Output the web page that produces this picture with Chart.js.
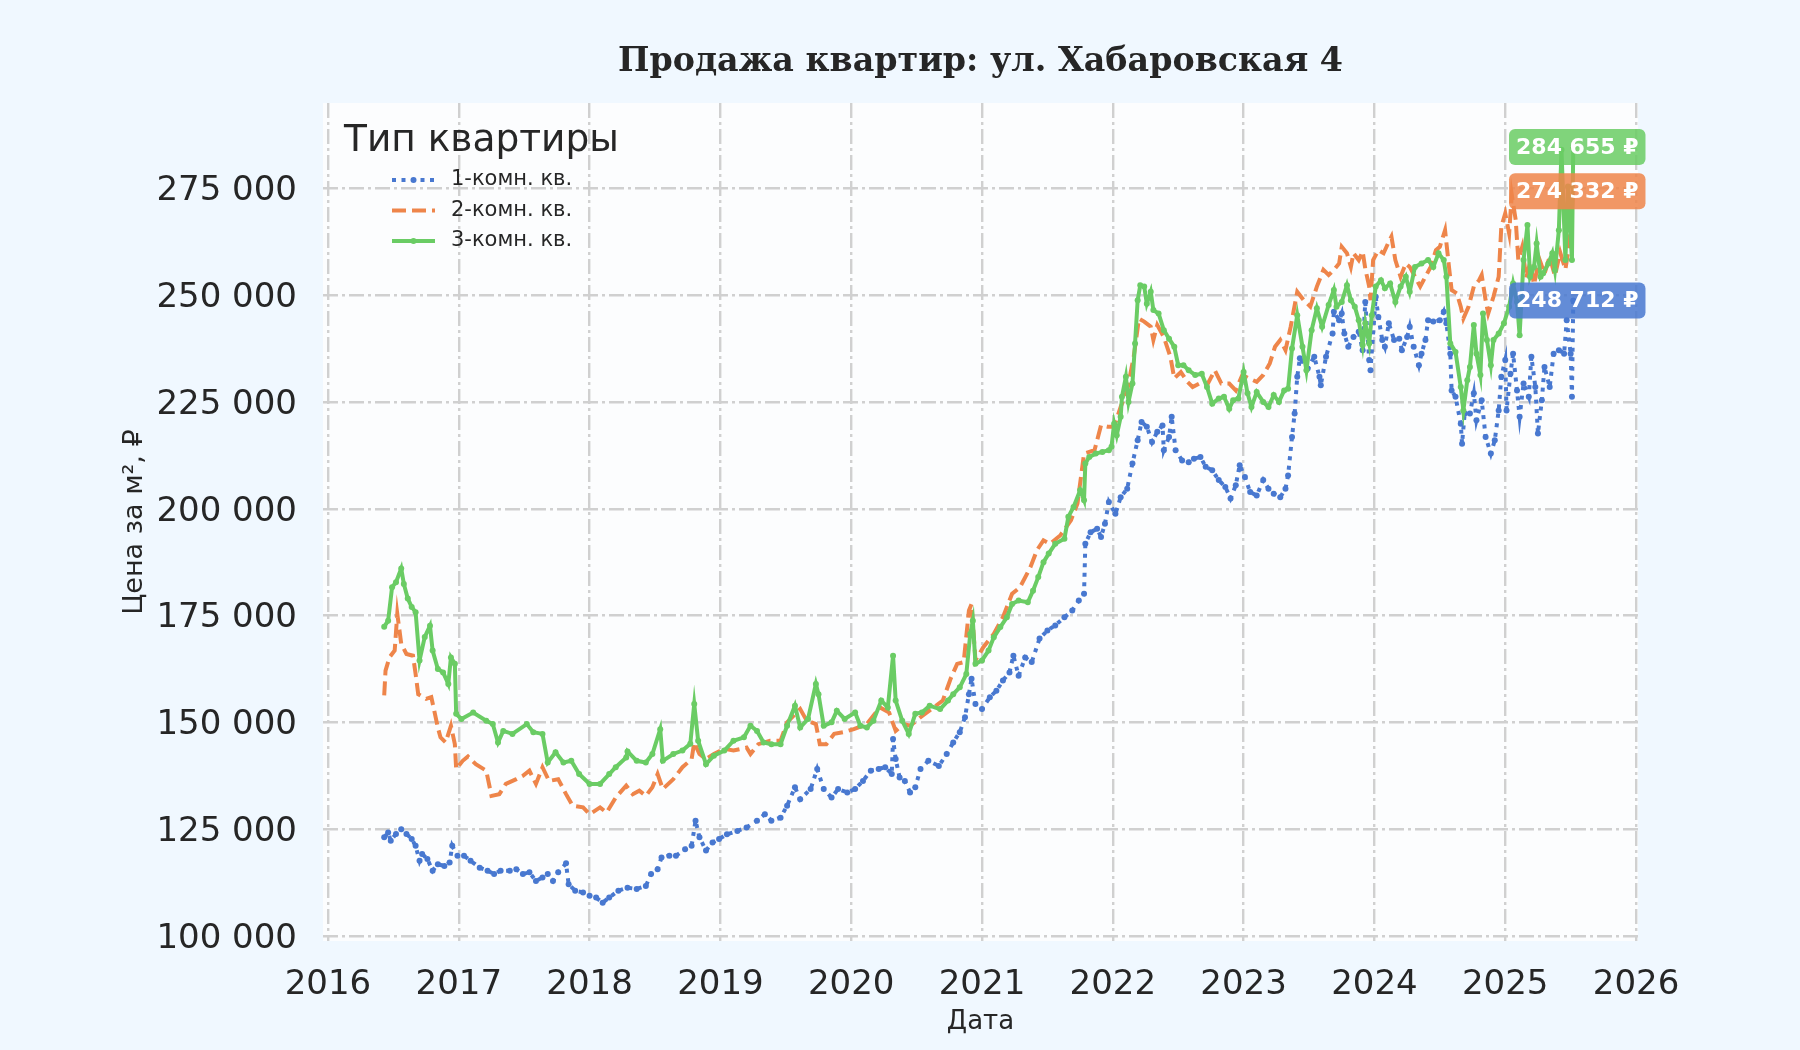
<!DOCTYPE html>
<html lang="ru">
<head>
<meta charset="utf-8">
<title>Продажа квартир: ул. Хабаровская 4</title>
<script src="https://cdn.jsdelivr.net/npm/chart.js@4.4.1/dist/chart.umd.min.js"></script>
<style>
  html, body { margin: 0; padding: 0; background: #f0f8ff; }
  #wrap { width: 1800px; height: 1050px; }
</style>
</head>
<body>
<div id="wrap"><canvas id="chart" width="1800" height="1050"></canvas></div>
<script>
'use strict';

// --- Данные, даты — дробные годы ---
const oneRoomDates = [
  2016.43, 2016.46, 2016.48, 2016.52, 2016.56, 2016.60, 2016.64, 2016.67, 2016.70, 2016.72,
  2016.76, 2016.80, 2016.84, 2016.89, 2016.93, 2016.95, 2016.99, 2017.04, 2017.09, 2017.16,
  2017.22, 2017.27, 2017.32, 2017.39, 2017.44, 2017.49, 2017.54, 2017.59, 2017.64, 2017.68,
  2017.72, 2017.76, 2017.82, 2017.84, 2017.89, 2017.95, 2018.00, 2018.05, 2018.10, 2018.15,
  2018.22, 2018.29, 2018.36, 2018.43, 2018.47, 2018.52, 2018.55, 2018.61, 2018.66, 2018.73,
  2018.78, 2018.81, 2018.84, 2018.89, 2018.94, 2018.99, 2019.05, 2019.13, 2019.20, 2019.28,
  2019.34, 2019.39, 2019.46, 2019.51, 2019.57, 2019.61, 2019.69, 2019.74, 2019.79, 2019.85,
  2019.90, 2019.97, 2020.03, 2020.09, 2020.15, 2020.21, 2020.26, 2020.31, 2020.32, 2020.34,
  2020.37, 2020.41, 2020.45, 2020.49, 2020.53, 2020.59, 2020.67, 2020.73, 2020.78, 2020.83,
  2020.87, 2020.90, 2020.92, 2020.95, 2021.00, 2021.06, 2021.11, 2021.16, 2021.21, 2021.24,
  2021.28, 2021.33, 2021.38, 2021.44, 2021.50, 2021.56, 2021.63, 2021.69, 2021.74, 2021.78,
  2021.79, 2021.83, 2021.88, 2021.91, 2021.94, 2021.97, 2022.02, 2022.06, 2022.11, 2022.15,
  2022.19, 2022.22, 2022.26, 2022.30, 2022.34, 2022.38, 2022.39, 2022.43, 2022.45, 2022.48,
  2022.53, 2022.58, 2022.62, 2022.67, 2022.71, 2022.76, 2022.81, 2022.86, 2022.90, 2022.94,
  2022.97, 2023.01, 2023.05, 2023.10, 2023.15, 2023.19, 2023.23, 2023.28, 2023.32, 2023.34,
  2023.37, 2023.39, 2023.41, 2023.43, 2023.49, 2023.54, 2023.58, 2023.59, 2023.63, 2023.68,
  2023.69, 2023.73, 2023.75, 2023.77, 2023.80, 2023.84, 2023.88, 2023.91, 2023.93, 2023.96,
  2023.97, 2024.01, 2024.03, 2024.06, 2024.08, 2024.11, 2024.15, 2024.19, 2024.21, 2024.25,
  2024.27, 2024.30, 2024.34, 2024.36, 2024.39, 2024.41, 2024.45, 2024.50, 2024.53, 2024.55,
  2024.58, 2024.59, 2024.62, 2024.66, 2024.67, 2024.69, 2024.73, 2024.76, 2024.78, 2024.82,
  2024.85, 2024.89, 2024.92, 2024.95, 2024.97, 2025.00, 2025.01, 2025.04, 2025.06, 2025.09,
  2025.11, 2025.14, 2025.18, 2025.20, 2025.23, 2025.25, 2025.28, 2025.30, 2025.34, 2025.37,
  2025.41, 2025.45, 2025.47, 2025.50, 2025.51, 2025.52
];
const oneRoomPrices = [
  123100, 124200, 122300, 123900, 125000, 123900, 122700, 121100, 117600, 119200,
  118000, 115300, 116800, 116400, 117200, 121100, 118800, 118800, 117600, 116000,
  115300, 114500, 115300, 115300, 115600, 114500, 114900, 112900, 113700, 114500,
  112900, 114900, 117000, 112100, 110600, 110200, 109400, 109000, 107800, 109000,
  110600, 111300, 111000, 111700, 114500, 115600, 118400, 118800, 118800, 120300,
  121100, 127000, 123100, 120000, 121900, 122700, 123800, 124600, 125400, 127000,
  128500, 127000, 127700, 130500, 134800, 132000, 134400, 139100, 134400, 132400,
  134400, 133600, 134400, 136300, 138700, 139100, 139500, 137900, 146100, 141400,
  137100, 136300, 133600, 134800, 139100, 141000, 139800, 142600, 145300, 147700,
  151200, 156600, 160200, 154300, 153100, 155900, 157400, 159800, 161700, 165600,
  160900, 165200, 164100, 169600, 171500, 172700, 174600, 176200, 178500, 180100,
  191800, 194500, 195300, 193400, 196500, 201600, 198800, 202700, 204700, 210600,
  216000, 220300, 219200, 215600, 218000, 219500, 213700, 216800, 221500, 213700,
  211300, 210900, 211700, 212100, 209800, 209000, 206700, 205100, 202400, 205500,
  210200, 207400, 203900, 203100, 206700, 204700, 203500, 202700, 204700, 207800,
  216800, 222300, 230900, 235200, 232800, 235600, 230900, 228900, 235600, 241000,
  246100, 244100, 245700, 241000, 237900, 240200, 241400, 237100, 248400, 234800,
  232400, 249600, 244900, 239500, 237900, 243400, 239500, 239800, 237100, 240200,
  242600, 237900, 233600, 236300, 239500, 244100, 243800, 244100, 246100, 243400,
  236300, 227700, 226200, 219900, 215200, 222300, 222300, 227000, 220700, 225400,
  216800, 212900, 216000, 223000, 230900, 234800, 223000, 231600, 236300, 227700,
  221500, 229300, 226200, 235600, 228500, 217600, 225400, 233200, 228500, 236300,
  237100, 236300, 244100, 236300, 226200, 248712
];

const twoRoomDates = [
  2016.43, 2016.44, 2016.47, 2016.51, 2016.53, 2016.56, 2016.60, 2016.65, 2016.67, 2016.69,
  2016.75, 2016.79, 2016.81, 2016.84, 2016.86, 2016.90, 2016.94, 2016.97, 2016.98, 2017.03,
  2017.07, 2017.13, 2017.21, 2017.25, 2017.31, 2017.36, 2017.44, 2017.49, 2017.54, 2017.59,
  2017.64, 2017.69, 2017.76, 2017.82, 2017.87, 2017.95, 2018.00, 2018.08, 2018.13, 2018.20,
  2018.28, 2018.33, 2018.38, 2018.43, 2018.48, 2018.52, 2018.56, 2018.64, 2018.71, 2018.78,
  2018.80, 2018.84, 2018.89, 2018.95, 2019.03, 2019.10, 2019.20, 2019.23, 2019.29, 2019.38,
  2019.46, 2019.51, 2019.61, 2019.66, 2019.73, 2019.76, 2019.81, 2019.87, 2019.94, 2020.02,
  2020.12, 2020.22, 2020.29, 2020.34, 2020.40, 2020.45, 2020.53, 2020.63, 2020.70, 2020.76,
  2020.81, 2020.86, 2020.90, 2020.92, 2020.95, 2021.01, 2021.09, 2021.16, 2021.23, 2021.29,
  2021.37, 2021.42, 2021.47, 2021.52, 2021.60, 2021.68, 2021.73, 2021.78, 2021.86, 2021.91,
  2021.96, 2022.01, 2022.06, 2022.11, 2022.16, 2022.20, 2022.24, 2022.29, 2022.31, 2022.34,
  2022.39, 2022.44, 2022.47, 2022.52, 2022.57, 2022.61, 2022.66, 2022.72, 2022.78, 2022.83,
  2022.89, 2022.94, 2022.99, 2023.04, 2023.10, 2023.15, 2023.20, 2023.24, 2023.28, 2023.32,
  2023.36, 2023.41, 2023.46, 2023.51, 2023.56, 2023.61, 2023.65, 2023.69, 2023.73, 2023.75,
  2023.79, 2023.82, 2023.84, 2023.88, 2023.91, 2023.93, 2023.96, 2023.97, 2023.99, 2024.03,
  2024.07, 2024.11, 2024.13, 2024.16, 2024.20, 2024.24, 2024.27, 2024.31, 2024.35, 2024.39,
  2024.43, 2024.47, 2024.50, 2024.54, 2024.57, 2024.59, 2024.63, 2024.66, 2024.68, 2024.72,
  2024.76, 2024.80, 2024.82, 2024.85, 2024.87, 2024.91, 2024.95, 2024.97, 2025.00, 2025.03,
  2025.05, 2025.08, 2025.10, 2025.13, 2025.16, 2025.19, 2025.22, 2025.26, 2025.30, 2025.34,
  2025.38, 2025.42, 2025.46, 2025.49, 2025.52
];
const twoRoomPrices = [
  156300, 162100, 165200, 166800, 175400, 168400, 166000, 165600, 161300, 156600,
  155500, 155900, 153100, 148800, 146500, 145300, 149200, 144900, 139100, 141000,
  142000, 140200, 138700, 132800, 133200, 135600, 136700, 137500, 138700, 135600,
  139500, 136300, 136700, 133200, 130500, 130100, 128500, 130100, 128900, 132400,
  135200, 133200, 134000, 132800, 134800, 137900, 134400, 136700, 139500, 141400,
  145300, 142600, 141400, 142600, 143800, 143400, 144100, 142600, 144900, 145700,
  145700, 150000, 153100, 150400, 149600, 144900, 144900, 147300, 147700, 148400,
  149600, 153500, 152300, 148000, 149600, 149200, 151200, 153500, 155100, 160200,
  163700, 164100, 176200, 177700, 164500, 167600, 170700, 174600, 180100, 181600,
  186300, 190300, 192600, 191800, 193800, 197300, 201200, 212900, 213700, 219500,
  219200, 219200, 223800, 227700, 235600, 244500, 243800, 242600, 239500, 243000,
  240200, 235600, 230500, 232000, 229700, 228500, 229300, 228900, 232400, 229300,
  229300, 227700, 231300, 230500, 229700, 231300, 234000, 237900, 239500, 237100,
  242600, 250800, 248800, 247300, 252000, 255900, 254700, 255900, 257400, 261300,
  259800, 256600, 259800, 258200, 260200, 256200, 252000, 248800, 258200, 260500,
  259800, 262500, 263700, 258200, 254300, 257400, 256600, 254300, 252000, 254300,
  256600, 260500, 261300, 265200, 256600, 251200, 250400, 247300, 244500, 247300,
  252000, 253500, 254700, 248800, 245700, 249600, 254300, 266000, 269100, 264400,
  273500, 267600, 258200, 261300, 254000, 257500, 252500, 258500, 255000, 259000,
  254500, 260000, 256000, 262000, 274332
];

const threeRoomDates = [
  2016.43, 2016.46, 2016.49, 2016.52, 2016.56, 2016.58, 2016.61, 2016.64, 2016.67, 2016.70,
  2016.74, 2016.78, 2016.80, 2016.84, 2016.88, 2016.92, 2016.94, 2016.97, 2016.98, 2017.02,
  2017.11, 2017.21, 2017.26, 2017.30, 2017.34, 2017.41, 2017.52, 2017.57, 2017.64, 2017.68,
  2017.74, 2017.80, 2017.86, 2017.92, 2018.00, 2018.08, 2018.15, 2018.20, 2018.28, 2018.29,
  2018.36, 2018.43, 2018.48, 2018.54, 2018.56, 2018.64, 2018.71, 2018.77, 2018.80, 2018.83,
  2018.89, 2018.95, 2019.03, 2019.10, 2019.18, 2019.23, 2019.28, 2019.33, 2019.39, 2019.46,
  2019.51, 2019.57, 2019.61, 2019.67, 2019.73, 2019.75, 2019.79, 2019.85, 2019.89, 2019.95,
  2020.03, 2020.07, 2020.12, 2020.17, 2020.23, 2020.28, 2020.32, 2020.34, 2020.39, 2020.44,
  2020.49, 2020.54, 2020.60, 2020.68, 2020.74, 2020.78, 2020.83, 2020.88, 2020.91, 2020.93,
  2020.95, 2021.00, 2021.05, 2021.09, 2021.14, 2021.19, 2021.23, 2021.28, 2021.35, 2021.39,
  2021.43, 2021.47, 2021.51, 2021.56, 2021.63, 2021.66, 2021.70, 2021.75, 2021.78, 2021.79,
  2021.82, 2021.87, 2021.92, 2021.97, 2021.99, 2022.01, 2022.03, 2022.06, 2022.07, 2022.10,
  2022.12, 2022.15, 2022.17, 2022.19, 2022.21, 2022.24, 2022.26, 2022.29, 2022.31, 2022.35,
  2022.39, 2022.43, 2022.47, 2022.50, 2022.54, 2022.58, 2022.63, 2022.68, 2022.72, 2022.76,
  2022.81, 2022.85, 2022.89, 2022.92, 2022.96, 2023.00, 2023.03, 2023.06, 2023.10, 2023.15,
  2023.19, 2023.23, 2023.27, 2023.31, 2023.34, 2023.37, 2023.41, 2023.45, 2023.48, 2023.52,
  2023.56, 2023.60, 2023.65, 2023.69, 2023.71, 2023.75, 2023.79, 2023.82, 2023.85, 2023.88,
  2023.91, 2023.93, 2023.96, 2023.98, 2024.01, 2024.05, 2024.08, 2024.12, 2024.16, 2024.20,
  2024.24, 2024.27, 2024.31, 2024.36, 2024.41, 2024.45, 2024.49, 2024.53, 2024.55, 2024.58,
  2024.62, 2024.66, 2024.68, 2024.71, 2024.73, 2024.76, 2024.78, 2024.81, 2024.83, 2024.86,
  2024.89, 2024.91, 2024.95, 2024.99, 2025.03, 2025.06, 2025.09, 2025.11, 2025.14, 2025.17,
  2025.19, 2025.22, 2025.24, 2025.27, 2025.29, 2025.33, 2025.36, 2025.38, 2025.41, 2025.43,
  2025.46, 2025.48, 2025.51, 2025.52
];
const threeRoomPrices = [
  172400, 173800, 181600, 182800, 186000, 182400, 179000, 177000, 175800, 164500,
  170000, 172600, 166800, 162500, 161700, 159000, 165200, 163700, 152000, 150800,
  152300, 150400, 149600, 145300, 148000, 147300, 149600, 147700, 147300, 140600,
  143000, 140600, 141000, 137900, 135600, 135600, 137900, 139500, 141800, 143200,
  141000, 140600, 142600, 148400, 141000, 142600, 143400, 145000, 154300, 145700,
  140200, 142200, 143400, 145700, 146500, 149200, 148000, 145300, 144900, 144900,
  149200, 153900, 148800, 150800, 159000, 156600, 149200, 150000, 152700, 150800,
  152300, 149200, 148800, 150400, 155100, 153500, 165600, 155100, 150400, 147300,
  152000, 152300, 153900, 153100, 155100, 156600, 158200, 161300, 170700, 173800,
  163700, 164500, 166800, 169900, 172300, 174600, 177700, 178500, 178100, 180800,
  184000, 187500, 189500, 191800, 193000, 198100, 200400, 204300, 202000, 210600,
  212100, 212900, 213300, 213700, 214500, 219900, 217200, 221500, 226200, 230900,
  225000, 229300, 238700, 248800, 252300, 252000, 248000, 250800, 246500, 245700,
  241800, 239800, 237900, 233600, 233600, 232400, 231300, 231600, 228500, 224600,
  225800, 226200, 223400, 225400, 225800, 232000, 227000, 223800, 227300, 225000,
  223800, 226600, 225000, 227700, 228100, 237500, 245300, 237900, 232400, 241800,
  246900, 242600, 247700, 251200, 247300, 248400, 252300, 248800, 247300, 244100,
  238300, 243400, 238700, 245300, 252000, 253500, 251600, 252700, 248400, 252000,
  254300, 250800, 256600, 257400, 258200, 256600, 259800, 258200, 254300, 238700,
  236700, 228500, 223000, 230100, 233200, 243000, 236300, 231300, 245700, 239500,
  233600, 239500, 241000, 243400, 247300, 252700, 248400, 240600, 258200, 266400,
  254300, 256600, 262100, 254300, 255100, 257400, 259800, 255900, 265200, 284000,
  258200, 275400, 258200, 284655
];

const seriesNames = ['1-комн. кв.', '2-комн. кв.', '3-комн. кв.'];
const yearTicks = [2016, 2017, 2018, 2019, 2020, 2021, 2022, 2023, 2024, 2025, 2026];
const priceTicks = [100000, 125000, 150000, 175000, 200000, 225000, 250000, 275000];

// --- Оформление ---
const COLORS = {
    blue: '#4878d0',
    orange: '#ee854a',
    green: '#6acc64',
    text: '#262626',
    grid: '#d0d0d0',
    figure: '#f0f8ff',
    axes: '#fcfdfe'
};
const FONT = '"DejaVu Sans", sans-serif';

function formatThousands(v) {
    return Math.round(v).toString().replace(/\B(?=(\d{3})+(?!\d))/g, ' ');
}

function toPoints(dates, prices) {
    return dates.map((d, i) => ({ x: d, y: prices[i] }));
}

function hexToRgba(hex, a) {
    const n = parseInt(hex.slice(1), 16);
    return `rgba(${(n >> 16) & 255}, ${(n >> 8) & 255}, ${n & 255}, ${a})`;
}

// Фон фигуры и области построения
const backgroundPlugin = {
    id: 'axesBackground',
    beforeDraw(chart) {
        const { ctx, chartArea: a } = chart;
        ctx.save();
        ctx.fillStyle = COLORS.figure;
        ctx.fillRect(0, 0, chart.width, chart.height);
        ctx.fillStyle = COLORS.axes;
        ctx.fillRect(a.left, a.top, a.right - a.left, a.bottom - a.top);
        ctx.restore();
    }
};

// Заголовок и подписи осей
const titlesPlugin = {
    id: 'titles',
    afterDraw(chart) {
        const { ctx, chartArea: a } = chart;
        ctx.save();
        ctx.fillStyle = COLORS.text;
        ctx.textAlign = 'center';
        ctx.textBaseline = 'middle';
        ctx.font = 'bold 33.3px "DejaVu Serif", serif';
        ctx.fillText('Продажа квартир: ул. Хабаровская 4', (a.left + a.right) / 2, 62);

        ctx.font = `26px ${FONT}`;
        ctx.fillText('Дата', (a.left + a.right) / 2, 1022);

        ctx.translate(135, (a.top + a.bottom) / 2);
        ctx.rotate(-Math.PI / 2);
        ctx.font = `27px ${FONT}`;
        ctx.fillText('Цена за м², ₽', 0, 0);
        ctx.restore();
    }
};

// Легенда внутри области построения (без рамки)
const legendPlugin = {
    id: 'typeLegend',
    afterDraw(chart) {
        const { ctx, chartArea: a } = chart;
        const x0 = a.left + 21;
        ctx.save();
        ctx.fillStyle = COLORS.text;
        ctx.textAlign = 'left';
        ctx.textBaseline = 'middle';
        ctx.font = `37.5px ${FONT}`;
        ctx.fillText('Тип квартиры', x0, a.top + 38);

        chart.data.datasets.forEach((ds, i) => {
            const y = a.top + 77 + i * 30.5;
            const sx = x0 + 48;
            ctx.beginPath();
            ctx.strokeStyle = ds.borderColor;
            ctx.lineWidth = ds.borderWidth;
            ctx.lineCap = 'butt';
            ctx.setLineDash(ds.borderDash || []);
            ctx.moveTo(sx, y);
            ctx.lineTo(sx + 43, y);
            ctx.stroke();
            ctx.setLineDash([]);
            if (ds.pointRadius > 0) {
                ctx.beginPath();
                ctx.fillStyle = ds.borderColor;
                ctx.arc(sx + 21.5, y, ds.pointRadius, 0, Math.PI * 2);
                ctx.fill();
            }
            ctx.fillStyle = COLORS.text;
            ctx.font = `21px ${FONT}`;
            ctx.fillText(ds.label, sx + 59, y);
        });
        ctx.restore();
    }
};

// Плашки с последним значением каждой серии
const lastValuePlugin = {
    id: 'lastValue',
    afterDatasetsDraw(chart) {
        const { ctx, scales: { x, y } } = chart;
        ctx.save();
        ctx.font = `bold 22px ${FONT}`;
        ctx.textAlign = 'center';
        ctx.textBaseline = 'middle';
        chart.data.datasets.forEach(ds => {
            const last = ds.data[ds.data.length - 1];
            const px = x.getPixelForValue(last.x) + 4;
            const py = y.getPixelForValue(last.y);
            const text = `${formatThousands(last.y)} ₽`;
            const w = ctx.measureText(text).width + 14;
            const h = 36;
            ctx.fillStyle = hexToRgba(ds.borderColor, 0.85);
            ctx.beginPath();
            ctx.roundRect(px - w / 2, py - h / 2, w, h, 6);
            ctx.fill();
            ctx.fillStyle = '#ffffff';
            ctx.fillText(text, px, py + 1);
        });
        ctx.restore();
    }
};

const gridCommon = {
    color: COLORS.grid,
    lineWidth: 2.4,
    drawTicks: false,
    borderDash: [15, 4, 3, 4]
};

const chart = new Chart(document.getElementById('chart'), {
    type: 'line',
    data: {
        datasets: [
            {
                label: seriesNames[0],
                data: toPoints(oneRoomDates, oneRoomPrices),
                borderColor: COLORS.blue,
                backgroundColor: COLORS.blue,
                borderWidth: 4,
                borderDash: [4, 5.5],
                pointRadius: 3,
                pointBorderWidth: 0,
                order: 2
            },
            {
                label: seriesNames[1],
                data: toPoints(twoRoomDates, twoRoomPrices),
                borderColor: COLORS.orange,
                backgroundColor: COLORS.orange,
                borderWidth: 4,
                borderDash: [14, 6],
                pointRadius: 0,
                order: 1
            },
            {
                label: seriesNames[2],
                data: toPoints(threeRoomDates, threeRoomPrices),
                borderColor: COLORS.green,
                backgroundColor: COLORS.green,
                borderWidth: 4,
                pointRadius: 3,
                pointBorderWidth: 0,
                order: 0
            }
        ]
    },
    options: {
        responsive: false,
        devicePixelRatio: 1,
        animation: false,
        events: [],
        layout: { padding: { top: 103, right: 162, left: 0, bottom: 0 } },
        elements: { line: { tension: 0 } },
        plugins: {
            legend: { display: false },
            title: { display: false },
            tooltip: { enabled: false }
        },
        scales: {
            x: {
                type: 'linear',
                min: 2015.962,
                max: 2026.015,
                afterFit: (scale) => { scale.height = 109; },
                afterBuildTicks: (scale) => { scale.ticks = yearTicks.map(v => ({ value: v })); },
                grid: gridCommon,
                border: { display: false, dash: [15, 4, 3, 4] },
                ticks: {
                    autoSkip: false,
                    maxRotation: 0,
                    padding: 24,
                    color: COLORS.text,
                    font: { family: FONT, size: 34 },
                    callback: (v) => String(v)
                }
            },
            y: {
                type: 'linear',
                min: 98830,
                max: 294960,
                afterFit: (scale) => { scale.width = 323; },
                afterBuildTicks: (scale) => { scale.ticks = priceTicks.map(v => ({ value: v })); },
                grid: gridCommon,
                border: { display: false, dash: [15, 4, 3, 4] },
                ticks: {
                    padding: 26,
                    labelOffset: 3,
                    color: COLORS.text,
                    font: { family: FONT, size: 34 },
                    callback: (v) => formatThousands(v)
                }
            }
        }
    },
    plugins: [backgroundPlugin, titlesPlugin, legendPlugin, lastValuePlugin]
});
</script>
</body>
</html>
